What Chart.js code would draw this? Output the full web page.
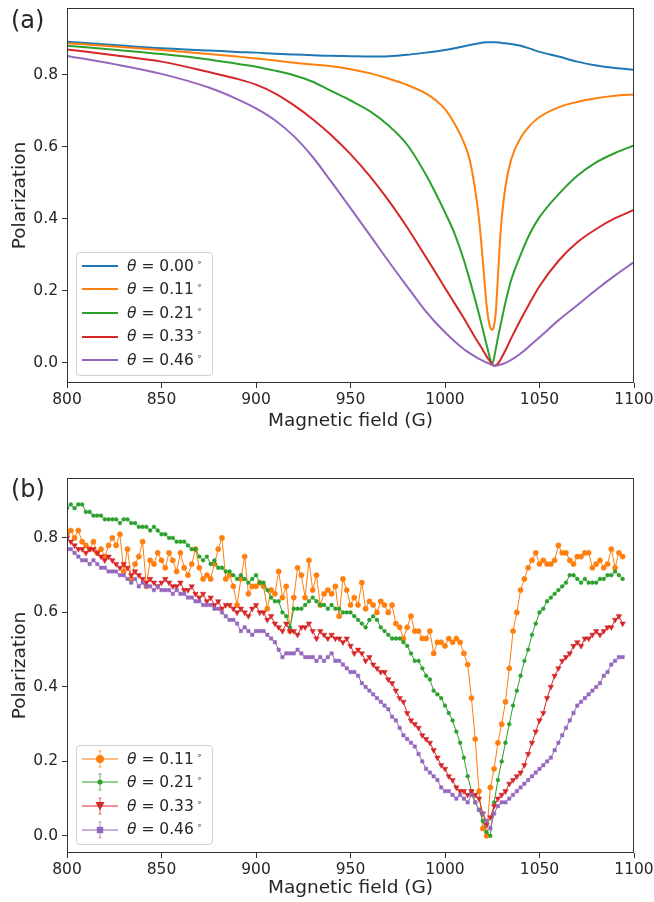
<!DOCTYPE html>
<html>
<head>
<meta charset="utf-8">
<title>Polarization vs magnetic field</title>
<script src="https://cdn.jsdelivr.net/npm/chart.js@4.4.0/dist/chart.umd.min.js"></script>
<style>
  body { margin: 0; background: #fff; font-family: 'DejaVu Sans', sans-serif; color: #262626; }
  #page { position: relative; width: 654px; height: 902px; overflow: hidden; }
  .panel { position: absolute; left: 0; }
  .tag { position: absolute; left: 11px; font-size: 24px; line-height: 28px; }
  .legend { position: absolute; left: 76px; width: 135px; border: 1px solid #d0d0d0; border-radius: 4px;
            background: rgba(255,255,255,0.85); font-size: 15.5px; padding: 1px 0 3px 0; }
  .legend .row { height: 23.6px; display: flex; align-items: center; white-space: nowrap; }
  .legend svg { margin-left: 5px; margin-right: 9px; flex: none; }
  .legend i { font-style: italic; }
  .legend sup { font-size: 0.55em; vertical-align: 0.75em; margin-left: 3px; }
</style>
</head>
<body>
<div id="page">
  <canvas id="chartA" class="panel" width="654" height="450" style="top:0"></canvas>
  <canvas id="chartB" class="panel" width="654" height="452" style="top:450px"></canvas>
  <div class="tag" style="top:6px">(a)</div>
  <div class="tag" style="top:475px">(b)</div>
  <div id="legendA" class="legend" style="top:252px"></div>
  <div id="legendB" class="legend" style="top:745px"></div>
</div>
<script>
// axes
const xTicks = [800, 850, 900, 950, 1000, 1050, 1100];
const yTicks = [0.0, 0.2, 0.4, 0.6, 0.8];

// (a) theory curves
const anglesA = ['0.00', '0.11', '0.21', '0.33', '0.46'];
const fieldA = [800, 825, 850, 875, 890, 900, 910, 920, 930, 940,
  950, 960, 970, 980, 990, 995, 1000, 1005, 1010, 1013,
  1016, 1018, 1020, 1022, 1023, 1024, 1025, 1026, 1027, 1028,
  1029, 1030, 1032, 1035, 1040, 1045, 1050, 1060, 1070, 1080,
  1090, 1100];
const theta000 = [.892, .883, .874, .868, .864, .862, .859, .857, .855, .853,
  .852, .851, .852, .856, .862, .865, .869, .874, .880, .883,
  .886, .888, .890, .891, .891, .891, .891, .891, .891, .890,
  .890, .889, .888, .886, .881, .873, .864, .851, .837, .826,
  .819, .814];
const theta011 = [.888, .879, .869, .858, .851, .846, .840, .834, .829, .824,
  .816, .805, .790, .772, .748, .730, .705, .665, .612, .566,
  .480, .400, .285, .160, .120, .097, .092, .105, .150, .240,
  .330, .400, .490, .565, .625, .660, .683, .710, .725, .735,
  .742, .746];
const theta021 = [.881, .870, .858, .843, .831, .823, .812, .799, .781, .755,
  .729, .700, .660, .606, .522, .472, .418, .360, .285, .232,
  .175, .135, .093, .050, .029, .009, -.004, .015, .042, .070,
  .095, .120, .168, .230, .300, .360, .405, .468, .520, .557,
  .583, .604];
const theta033 = [.871, .855, .837, .808, .789, .773, .749, .716, .677, .632,
  .580, .520, .452, .376, .293, .251, .208, .166, .124, .097,
  .070, .053, .036, .018, .010, .003, -.005, -.008, -.006, -.002,
  .006, .015, .035, .068, .120, .168, .213, .283, .335, .372,
  .402, .425];
const theta046 = [.853, .830, .803, .765, .733, .707, .674, .630, .572, .502,
  .430, .357, .283, .212, .142, .112, .085, .060, .038, .027,
  .017, .011, .006, .001, -.001, -.004, -.006, -.008, -.008, -.007,
  -.005, -.004, .000, .008, .026, .048, .071, .118, .160, .203,
  .243, .280];

// (b) measured data, one point every 2 G from 800 G
const anglesB = ['0.11', '0.21', '0.33', '0.46'];
const meas011 = [
  .81, .82, .80, .82, .79, .78, .77, .79, .76, .77,
  .75, .78, .80, .78, .81, .71, .77, .69, .73, .75,
  .79, .67, .74, .73, .76, .74, .72, .76, .74, .71,
  .76, .72, .70, .73, .77, .72, .69, .70, .69, .73,
  .77, .80, .69, .70, .67, .62, .69, .75, .65, .67,
  .67, .68, .67, .61, .66, .65, .71, .64, .67, .55,
  .64, .72, .70, .64, .74, .66, .70, .62, .65, .66,
  .65, .67, .59, .69, .66, .62, .64, .62, .68, .61,
  .63, .62, .60, .63, .62, .60, .62, .57, .56, .53,
  .56, .59, .55, .55, .53, .53, .55, .49, .52, .52,
  .51, .53, .52, .53, .52, .49, .46, .37, .26, .12,
  .02, .00, .13, .18, .25, .30, .36, .45, .55, .60,
  .66, .69, .72, .74, .76, .73, .74, .73, .73, .74,
  .78, .76, .76, .74, .73, .75, .75, .76, .76, .72,
  .73, .74, .72, .73, .77, .72, .76, .75];
const meas021 = [
  .88, .89, .88, .89, .89, .87, .87, .86, .86, .86,
  .85, .85, .85, .85, .84, .85, .85, .84, .84, .83,
  .83, .83, .82, .83, .82, .81, .81, .80, .80, .79,
  .79, .79, .78, .77, .77, .75, .74, .75, .73, .74,
  .72, .72, .71, .71, .70, .69, .70, .69, .68, .69,
  .70, .68, .68, .66, .64, .63, .63, .60, .59, .56,
  .61, .61, .61, .62, .63, .64, .63, .62, .62, .61,
  .62, .61, .61, .60, .60, .60, .59, .58, .57, .56,
  .58, .59, .58, .56, .55, .54, .53, .53, .53, .52,
  .51, .49, .47, .47, .45, .43, .42, .39, .38, .37,
  .35, .33, .31, .28, .25, .21, .16, .12, .09, .07,
  .04, .01, .00, .09, .15, .20, .25, .30, .35, .39,
  .43, .47, .50, .54, .57, .60, .61, .63, .64, .65,
  .66, .67, .68, .70, .70, .69, .68, .69, .68, .68,
  .68, .69, .69, .70, .70, .71, .70, .69];
const meas033 = [
  .80, .79, .78, .77, .77, .76, .77, .77, .76, .75,
  .74, .75, .74, .73, .72, .73, .72, .70, .71, .70,
  .69, .68, .69, .68, .67, .68, .69, .68, .67, .67,
  .68, .66, .66, .67, .65, .64, .65, .63, .64, .62,
  .63, .61, .62, .62, .61, .60, .61, .60, .59, .61,
  .62, .60, .60, .58, .59, .57, .56, .55, .57, .55,
  .55, .54, .56, .56, .57, .55, .53, .55, .54, .53,
  .54, .53, .53, .52, .53, .51, .49, .50, .49, .47,
  .48, .46, .45, .44, .44, .42, .41, .39, .37, .36,
  .33, .31, .30, .29, .27, .26, .25, .23, .21, .19,
  .18, .16, .15, .13, .12, .12, .11, .12, .11, .10,
  .06, .03, .05, .08, .10, .11, .12, .14, .15, .16,
  .17, .19, .22, .25, .28, .31, .33, .37, .40, .43,
  .45, .47, .48, .49, .51, .52, .51, .53, .53, .54,
  .55, .54, .55, .56, .56, .58, .59, .57];
const meas046 = [
  .77, .77, .76, .75, .74, .74, .73, .74, .73, .72,
  .72, .71, .71, .71, .70, .70, .69, .68, .69, .67,
  .68, .67, .67, .66, .67, .66, .66, .66, .65, .66,
  .65, .65, .64, .64, .63, .63, .62, .62, .62, .61,
  .61, .60, .59, .58, .58, .57, .55, .56, .55, .54,
  .55, .55, .55, .54, .53, .52, .50, .48, .49, .49,
  .49, .50, .49, .48, .48, .48, .47, .48, .47, .48,
  .49, .47, .47, .46, .45, .44, .44, .43, .41, .40,
  .39, .38, .37, .36, .35, .34, .32, .31, .29, .27,
  .26, .25, .24, .22, .20, .18, .17, .16, .15, .13,
  .12, .12, .11, .10, .11, .10, .09, .11, .09, .07,
  .06, .04, .02, .06, .08, .09, .09, .10, .11, .12,
  .13, .14, .15, .16, .17, .18, .19, .20, .21, .23,
  .25, .27, .29, .31, .33, .35, .36, .37, .38, .39,
  .40, .41, .43, .44, .46, .47, .48, .48];
const fieldB = [];
for (let g = 800; g <= 1094; g += 2) fieldB.push(g);

const COLORS = ['#1f77b4', '#ff7f0e', '#2ca02c', '#d62728', '#9467bd'];
const FONT = 'DejaVu Sans';
const TEXT = '#262626';

// 네 변 테두리 (matplotlib 스타일)
const frame = {
  id: 'frame',
  afterDraw(chart) {
    const { ctx, chartArea: a } = chart;
    ctx.save();
    ctx.strokeStyle = '#333';
    ctx.lineWidth = 1;
    ctx.strokeRect(Math.round(a.left) + 0.5, Math.round(a.top) + 0.5,
      Math.round(a.right - a.left) - 1, Math.round(a.bottom - a.top) - 1);
    ctx.restore();
  }
};

function axes(yMin, yMax, xHeight, titlePad) {
  const tickFont = { family: FONT, size: 15.5 };
  const titleFont = { family: FONT, size: 18.5 };
  const grid = { drawOnChartArea: false, tickLength: 5, tickColor: '#333', tickWidth: 1 };
  return {
    x: {
      type: 'linear', min: 800, max: 1100,
      afterBuildTicks: s => { s.ticks = xTicks.map(v => ({ value: v })); },
      afterFit: s => { s.height = xHeight; s.paddingLeft = 0; s.paddingRight = 0; },
      grid: grid, border: { display: false },
      ticks: { color: TEXT, font: tickFont, padding: 3, maxRotation: 0, callback: v => String(v) },
      title: { display: true, text: 'Magnetic field (G)', color: TEXT, font: titleFont, padding: { top: 0, bottom: titlePad } }
    },
    y: {
      type: 'linear', min: yMin, max: yMax,
      afterBuildTicks: s => { s.ticks = yTicks.map(v => ({ value: v })); },
      afterFit: s => { s.width = 67; s.paddingTop = 0; s.paddingBottom = 0; },
      grid: grid, border: { display: false },
      ticks: { color: TEXT, font: tickFont, padding: 4, callback: v => v.toFixed(1) },
      title: { display: true, text: 'Polarization', color: TEXT, font: titleFont, padding: { top: 9, bottom: 0 } }
    }
  };
}

function baseOptions(padTop, scales) {
  return {
    responsive: false,
    animation: false,
    layout: { padding: { top: padTop, right: 20, left: 0, bottom: 0 } },
    plugins: { legend: { display: false }, tooltip: { enabled: false } },
    scales: scales
  };
}

// (a)
const seriesA = [theta000, theta011, theta021, theta033, theta046];
new Chart(document.getElementById('chartA'), {
  type: 'line',
  data: {
    datasets: seriesA.map((s, k) => ({
      label: 'θ = ' + anglesA[k] + '°',
      data: fieldA.map((x, i) => ({ x: x, y: s[i] })),
      borderColor: COLORS[k],
      borderWidth: 2,
      pointRadius: 0,
      cubicInterpolationMode: 'monotone',
      fill: false,
      order: seriesA.length - k
    }))
  },
  options: baseOptions(8, axes(-0.056, 0.986, 67, 18)),
  plugins: [frame]
});

// (b)
const seriesB = [meas011, meas021, meas033, meas046];
const markB = [
  { style: 'circle', r: 2.6, rot: 0 },
  { style: 'circle', r: 1.9, rot: 0 },
  { style: 'triangle', r: 3.2, rot: 180 },
  { style: 'rect', r: 2.4, rot: 0 }
];
new Chart(document.getElementById('chartB'), {
  type: 'line',
  data: {
    datasets: seriesB.map((s, k) => ({
      label: 'θ = ' + anglesB[k] + '°',
      data: fieldB.map((x, i) => ({ x: x, y: s[i] })),
      borderColor: COLORS[k + 1],
      backgroundColor: COLORS[k + 1],
      borderWidth: 1,
      pointStyle: markB[k].style,
      pointRadius: markB[k].r,
      pointRotation: markB[k].rot,
      pointBorderWidth: 0.5,
      pointBorderColor: COLORS[k + 1],
      pointBackgroundColor: COLORS[k + 1],
      tension: 0,
      fill: false,
      order: seriesB.length - k
    }))
  },
  options: baseOptions(28, axes(-0.046, 0.961, 49, 3)),
  plugins: [frame]
});

// 범례 (HTML)
function markerSvg(kind, color) {
  if (kind === 'circle') return `<circle cx="18" cy="10" r="4" fill="${color}"/>`;
  if (kind === 'small') return `<circle cx="18" cy="10" r="2.6" fill="${color}"/>`;
  if (kind === 'tri') return `<polygon points="13.5,6 22.5,6 18,14.5" fill="${color}"/>`;
  if (kind === 'square') return `<rect x="14.8" y="6.8" width="6.4" height="6.4" fill="${color}"/>`;
  return '';
}
function buildLegend(id, angles, colors, kinds, lineWidth) {
  const box = document.getElementById(id);
  angles.forEach((a, k) => {
    const c = colors[k];
    let svg = `<svg width="36" height="20"><line x1="0" y1="10" x2="36" y2="10" stroke="${c}" stroke-width="${lineWidth}"/>`;
    if (kinds) {
      svg += `<line x1="18" y1="2" x2="18" y2="18" stroke="${c}" stroke-width="1" opacity="0.7"/>` +
             `<line x1="16.5" y1="2" x2="19.5" y2="2" stroke="${c}" stroke-width="1" opacity="0.7"/>` +
             `<line x1="16.5" y1="18" x2="19.5" y2="18" stroke="${c}" stroke-width="1" opacity="0.7"/>` +
             markerSvg(kinds[k], c);
    }
    svg += '</svg>';
    const row = document.createElement('div');
    row.className = 'row';
    row.innerHTML = svg + `<span><i>θ</i> = ${a}<sup>∘</sup></span>`;
    box.appendChild(row);
  });
}
buildLegend('legendA', anglesA, COLORS, null, 2);
buildLegend('legendB', anglesB, COLORS.slice(1), ['circle', 'small', 'tri', 'square'], 1.2);
</script>
</body>
</html>
